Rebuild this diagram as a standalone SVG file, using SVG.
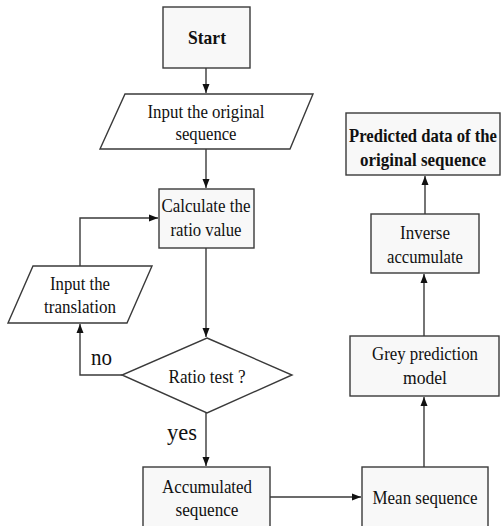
<svg xmlns="http://www.w3.org/2000/svg" width="501" height="526" viewBox="0 0 501 526">
  <style>
    .box { fill: #f8f8f8; stroke: #3a3a3a; stroke-width: 1.4; }
    .io { fill: #ffffff; stroke: #3a3a3a; stroke-width: 1.4; }
    .t { font-family: "Liberation Serif", "Times New Roman", "DejaVu Serif", serif; font-size: 19px; fill: #111; text-anchor: middle; }
    .b { font-weight: bold; }
    .lbl { font-family: "Liberation Serif", "Times New Roman", "DejaVu Serif", serif; font-size: 24px; fill: #111; }
    .edge { fill: none; stroke: #3a3a3a; stroke-width: 1.4; }
  </style>
  <defs>
    <marker id="arrow" markerUnits="userSpaceOnUse" markerWidth="10" markerHeight="10" viewBox="0 0 10 10" refX="9" refY="5" orient="auto">
      <path d="M0,1.5 L9,5 L0,8.5 Z" fill="#111"/>
    </marker>
  </defs>
  <rect width="501" height="526" fill="#ffffff"/>

  <g id="edges">
    <path class="edge" d="M206,68 V93" marker-end="url(#arrow)"/>
    <path class="edge" d="M206,149 V188" marker-end="url(#arrow)"/>
    <path class="edge" d="M206,248 V337" marker-end="url(#arrow)"/>
    <path class="edge" d="M206,413 V466" marker-end="url(#arrow)"/>
    <path class="edge" d="M270,497 H361" marker-end="url(#arrow)"/>
    <path class="edge" d="M424,467 V397" marker-end="url(#arrow)"/>
    <path class="edge" d="M424,336 V274" marker-end="url(#arrow)"/>
    <path class="edge" d="M425,214 V176" marker-end="url(#arrow)"/>
    <path class="edge" d="M122,375 H80 V324" marker-end="url(#arrow)"/>
    <path class="edge" d="M80,266 V218 H158" marker-end="url(#arrow)"/>
  </g>

  <g id="start">
    <rect class="box" x="163" y="7" width="87" height="61"/>
    <text class="t b" x="207" y="44" textLength="38" lengthAdjust="spacingAndGlyphs">Start</text>
  </g>

  <g id="input-original">
    <polygon class="io" points="125,94 313,94 290,149 100,149"/>
    <text class="t" x="206" y="118" textLength="117" lengthAdjust="spacingAndGlyphs">Input the original</text>
    <text class="t" x="206" y="140" textLength="61" lengthAdjust="spacingAndGlyphs">sequence</text>
  </g>

  <g id="calculate-ratio">
    <rect class="box" x="159" y="189" width="95" height="59"/>
    <text class="t" x="206" y="212" textLength="89" lengthAdjust="spacingAndGlyphs">Calculate the</text>
    <text class="t" x="206" y="236" textLength="71" lengthAdjust="spacingAndGlyphs">ratio value</text>
  </g>

  <g id="input-translation">
    <polygon class="io" points="33,266 152,266 127,323 8,323"/>
    <text class="t" x="80" y="290" textLength="60" lengthAdjust="spacingAndGlyphs">Input the</text>
    <text class="t" x="80" y="313" textLength="72" lengthAdjust="spacingAndGlyphs">translation</text>
  </g>

  <g id="ratio-test">
    <polygon class="io" points="207,338 292,375 207,413 122,375"/>
    <text class="t" x="207" y="383" textLength="77" lengthAdjust="spacingAndGlyphs">Ratio test ?</text>
  </g>

  <g id="labels">
    <text class="lbl" x="91" y="365" textLength="21" lengthAdjust="spacingAndGlyphs">no</text>
    <text class="lbl" x="167" y="440" textLength="30" lengthAdjust="spacingAndGlyphs">yes</text>
  </g>

  <g id="accumulated">
    <rect class="box" x="143" y="467" width="127" height="70"/>
    <text class="t" x="207" y="493" textLength="90" lengthAdjust="spacingAndGlyphs">Accumulated</text>
    <text class="t" x="207" y="516" textLength="63" lengthAdjust="spacingAndGlyphs">sequence</text>
  </g>

  <g id="mean-sequence">
    <rect class="box" x="362" y="467" width="126" height="70"/>
    <text class="t" x="425" y="504" textLength="105" lengthAdjust="spacingAndGlyphs">Mean sequence</text>
  </g>

  <g id="grey-model">
    <rect class="box" x="350" y="336" width="149" height="60"/>
    <text class="t" x="425" y="360" textLength="106" lengthAdjust="spacingAndGlyphs">Grey prediction</text>
    <text class="t" x="425" y="384" textLength="44" lengthAdjust="spacingAndGlyphs">model</text>
  </g>

  <g id="inverse-accumulate">
    <rect class="box" x="371" y="214" width="108" height="59"/>
    <text class="t" x="425" y="239" textLength="50" lengthAdjust="spacingAndGlyphs">Inverse</text>
    <text class="t" x="425" y="263" textLength="76" lengthAdjust="spacingAndGlyphs">accumulate</text>
  </g>

  <g id="predicted-data">
    <rect class="box" x="346" y="113" width="154" height="62"/>
    <text class="t b" x="423" y="142" textLength="148" lengthAdjust="spacingAndGlyphs">Predicted data of the</text>
    <text class="t b" x="423" y="166" textLength="126" lengthAdjust="spacingAndGlyphs">original sequence</text>
  </g>
</svg>
